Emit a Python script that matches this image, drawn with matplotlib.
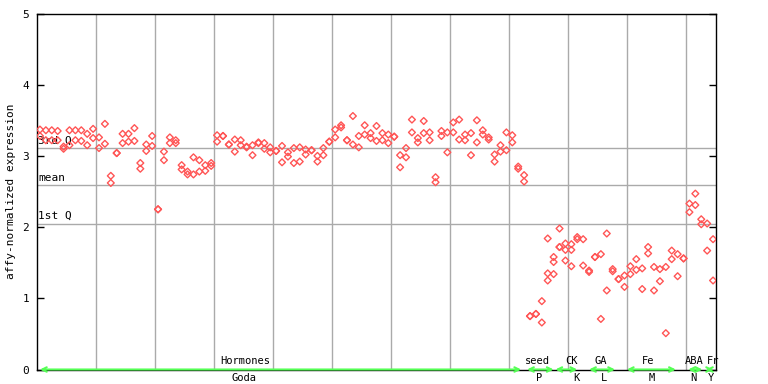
import matplotlib
matplotlib.use("Agg")
import matplotlib.pyplot as plt

# ---- data: replicate values per sample (sample index = list position) ----
sample_values = [
    [3.37, 3.28], [3.36, 3.22], [3.36, 3.22], [3.35, 3.22], [3.13, 3.10],
    [3.36, 3.15], [3.36, 3.22], [3.36, 3.21], [3.31, 3.15], [3.38, 3.25],
    [3.26, 3.11], [3.45, 3.17], [2.72, 2.62], [3.04, 3.04], [3.31, 3.18],
    [3.31, 3.20], [3.39, 3.21], [2.90, 2.82], [3.16, 3.07], [3.28, 3.14],
    [2.25, 2.25], [3.06, 2.94], [3.26, 3.18], [3.22, 3.18], [2.87, 2.81],
    [2.78, 2.74], [2.98, 2.74], [2.94, 2.78], [2.87, 2.79], [2.90, 2.86],
    [3.29, 3.20], [3.28, 3.28], [3.16, 3.16], [3.23, 3.06], [3.22, 3.15],
    [3.13, 3.12], [3.15, 3.01], [3.19, 3.18], [3.18, 3.10], [3.12, 3.05],
    [3.07, 3.07], [3.14, 2.91], [3.05, 2.99], [3.11, 2.90], [3.12, 2.92],
    [3.09, 3.02], [3.08, 3.08], [3.00, 2.92], [3.11, 3.01], [3.20, 3.20],
    [3.37, 3.26], [3.43, 3.40], [3.22, 3.22], [3.56, 3.16], [3.28, 3.12],
    [3.43, 3.30], [3.32, 3.25], [3.42, 3.21], [3.32, 3.22], [3.30, 3.18],
    [3.27, 3.27], [3.01, 2.84], [3.11, 2.98], [3.51, 3.33], [3.25, 3.19],
    [3.49, 3.32], [3.33, 3.22], [2.70, 2.63], [3.35, 3.28], [3.33, 3.05],
    [3.47, 3.33], [3.51, 3.23], [3.30, 3.22], [3.32, 3.01], [3.50, 3.19],
    [3.36, 3.30], [3.26, 3.23], [3.02, 2.92], [3.15, 3.06], [3.33, 3.08],
    [3.29, 3.19], [2.85, 2.82], [2.73, 2.64], [0.75, 0.75], [0.78, 0.78],
    [0.96, 0.66], [1.84, 1.35, 1.25], [1.58, 1.51, 1.34], [1.98, 1.72, 1.72],
    [1.77, 1.68, 1.53], [1.76, 1.68, 1.45], [1.86, 1.83], [1.83, 1.46],
    [1.39, 1.37], [1.58, 1.58], [1.62, 0.71], [1.91, 1.11], [1.41, 1.38],
    [1.27, 1.27], [1.32, 1.16], [1.45, 1.34], [1.55, 1.40], [1.42, 1.13],
    [1.72, 1.63], [1.44, 1.11], [1.41, 1.24], [1.44, 0.51], [1.67, 1.55],
    [1.62, 1.31], [1.56, 1.56], [2.33, 2.21], [2.47, 2.31], [2.11, 2.04],
    [2.05, 1.67], [1.83, 1.25],
]

quartile_names = ["3rd Q", "mean", "1st Q"]
quartile_values = [3.107, 2.587, 2.044]

group_names = ["Hormones", "seed", "CK", "GA", "Fe", "ABA", "Fr"]
group_subs = ["Goda", "P", "K", "L", "M", "N", "Y"]
group_starts = [0, 82.5, 87.3, 93.0, 99.4, 109.8, 112.8]
group_ends = [81.5, 87.0, 91.0, 97.4, 107.7, 112.2, 114.0]

# layout (label anchor positions in sample units)
group_label_x = [34.7, 84.2, 90.1, 95.0, 103.0, 110.8, 114.0]
group_sub_x = [34.6, 84.6, 90.8, 95.5, 103.6, 110.7, 113.6]

n_samples = len(sample_values)
xs, ys = [], []
for i, vals in enumerate(sample_values):
    for v in vals:
        xs.append(i)
        ys.append(v)

mono = "DejaVu Sans Mono"
plt.rcParams["font.family"] = mono

W, H = 768, 384
fig = plt.figure(figsize=(W / 100, H / 100), dpi=100)
ax = fig.add_axes([37 / W, (H - 369.5) / H, (716 - 37) / W, (369.5 - 13.5) / H])

ax.set_xlim(-0.5, n_samples - 0.5)
ax.set_ylim(0, 5)

grid_c = "#aaaaaa"
for gx in range(10, n_samples, 10):
    ax.axvline(gx - 0.5, color=grid_c, lw=1.0, zorder=1)
for name, q in zip(quartile_names, quartile_values):
    ax.axhline(q, color=grid_c, lw=1.0, zorder=1)
    ax.annotate(name, xy=(0, q), xycoords=("axes fraction", "data"),
                xytext=(1, 2), textcoords="offset points",
                ha="left", va="bottom", fontsize=8, color="black", zorder=2)

ax.scatter(xs, ys, marker="D", s=12, facecolors="none",
           edgecolors="#ff5555", linewidths=1.0, zorder=3)

ax.set_yticks([0, 1, 2, 3, 4, 5])
ax.set_yticklabels(["0", "1", "2", "3", "4", "5"])
ax.tick_params(axis="y", direction="in", length=5, width=1, pad=5.5,
               labelsize=8, right=True, left=True)
ax.set_xticks([])
for sp in ax.spines.values():
    sp.set_color("black")
    sp.set_linewidth(1.0)

fig.text(11.5 / W, 1 - 191.5 / H, "affy-normalized expression",
         rotation=90, ha="center", va="center", fontsize=8)

green = "#55ff55"
for name, sub, s0, s1, lx, sx in zip(group_names, group_subs, group_starts,
                                     group_ends, group_label_x, group_sub_x):
    ax.annotate("", xy=(s1, 0), xytext=(s0, 0),
                arrowprops=dict(arrowstyle="<->", color=green, lw=1.5,
                                shrinkA=0, shrinkB=0, mutation_scale=8),
                annotation_clip=False, zorder=4)
    ax.annotate(name, xy=(lx, 0), xytext=(0, 2.5), textcoords="offset points",
                ha="center", va="bottom", fontsize=7.5, annotation_clip=False)
    ax.annotate(sub, xy=(sx, 0), xytext=(0, -2.5), textcoords="offset points",
                ha="center", va="top", fontsize=7.5, annotation_clip=False)

fig.savefig("out.png", dpi=100)
